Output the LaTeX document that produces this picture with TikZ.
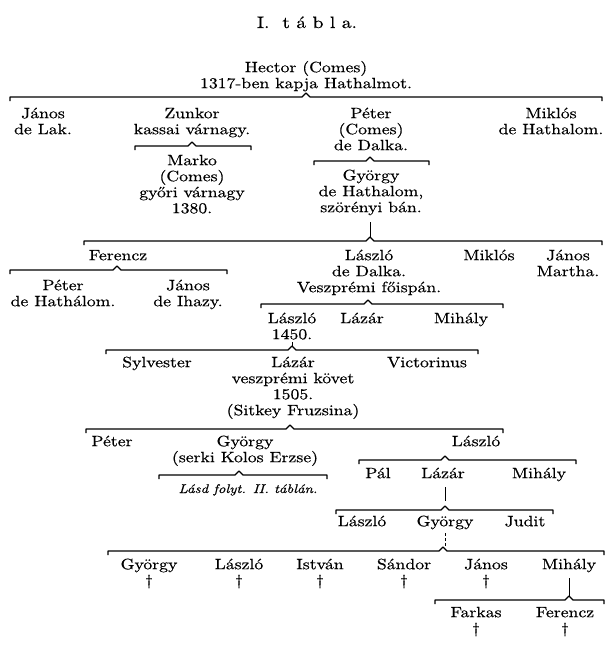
\documentclass[tikz,border=0pt]{standalone}
\usepackage{fontspec}
\setmainfont{lmroman10-regular.otf}[FakeStretch=1.18,FakeBold=0.5,ItalicFont=lmroman10-italic.otf]
\newcommand\pfont{\fontsize{15}{16}\selectfont}
\newcommand\hs{\rule{0pt}{12pt}}
% name, left x, tick x, right x, y
\newcommand\fambrace[5]{%
  \draw[brc] (#2,#5+4) -- (#2,#5) -- (#3-4,#5) -- (#3,#5-4) -- (#3+4,#5) -- (#4,#5) -- (#4,#5+4);
  \coordinate (#1) at (#3,#5-4);}
\begin{document}
\begin{tikzpicture}[x=1pt,y=-1pt,
  pers/.style={anchor=north,align=center,inner sep=0pt,font=\pfont,yshift=12pt},
  brc/.style={line width=1.2pt,line join=round},
  conn/.style={line width=0.8pt}]
\useasboundingbox (0,0) rectangle (613,646);
\node[anchor=base,inner sep=0pt,font=\fontsize{16.5}{18}\selectfont] (title) at (307,28) {I.\ \ t á b l a.};
\node[pers] (hector) at (306,72) {\hs Hector (Comes)\\1317-ben kapja Hathalmot.};
\fambrace{b1}{10}{306}{602}{97}
\node[pers] (janos1) at (43,118) {\hs János\\de Lak.};
\node[pers] (zunkor) at (192,118) {\hs Zunkor\\kassai várnagy.};
\node[pers] (peter1) at (371,118) {\hs Péter\\(Comes)\\de Dalka.};
\node[pers] (miklos1) at (551,118) {\hs Miklós\\de Hathalom.};
\fambrace{b2}{135}{192}{251}{146}
\node[pers] (marko) at (192,165) {\hs Marko\\(Comes)\\győri várnagy\\1380.};
\fambrace{b3}{314}{370}{429}{161}
\node[pers] (gyorgy1) at (371,180) {\hs György\\de Hathalom,\\szörényi bán.};
\coordinate (c1) at (370,222);
\fambrace{b4}{84}{370}{602}{241}
\draw[conn] (c1) -- (b4);
\node[pers] (ferencz1) at (118,260) {\hs Ferencz};
\node[pers] (laszlo1) at (369,260) {\hs László\\de Dalka.\\Veszprémi főispán.};
\node[pers] (miklos2) at (489,260) {\hs Miklós};
\node[pers] (janos2) at (568,260) {\hs János\\Martha.};
\fambrace{b5}{10}{117}{227}{270}
\node[pers] (peter2) at (63,290) {\hs Péter\\de Hathálom.};
\node[pers] (janos3) at (188,290) {\hs János\\de Ihazy.};
\fambrace{b6}{261}{368}{503}{304}
\node[pers] (laszlo2) at (292,323) {\hs László\\1450.};
\node[pers] (lazar1) at (362,323) {\hs Lázár};
\node[pers] (mihaly1) at (461,323) {\hs Mihály};
\fambrace{b7}{106}{292}{478}{350}
\coordinate (c2) at (292,342);
\draw[line width=0.6pt] (c2) -- (b7);
\node[pers] (sylvester) at (157,367) {\hs Sylvester};
\node[pers] (lazar2) at (293,367) {\hs Lázár\\veszprémi követ\\1505.\\(Sitkey Fruzsina)};
\node[pers] (victorinus) at (427,367) {\hs Victorinus};
\fambrace{b8}{86}{290}{503}{429}
\node[pers] (peter3) at (112,446) {\hs Péter};
\node[pers] (gyorgy2) at (245,446) {\hs György\\(serki Kolos Erzse)};
\node[pers] (laszlo3) at (476,446) {\hs László};
\fambrace{b9}{159}{239}{327}{475}
\node[anchor=base,inner sep=0pt,font=\fontsize{12.5}{14}\selectfont\itshape] (lasd) at (248,493) {Lásd folyt. II. táblán.};
\fambrace{b10}{359}{445}{576}{460}
\node[pers] (pal) at (378,478) {\hs Pál};
\node[pers] (lazar3) at (443,478) {\hs Lázár};
\node[pers] (mihaly2) at (539,478) {\hs Mihály};
\coordinate (c3) at (445,487);
\fambrace{b11}{336}{445}{553}{510}
\draw[conn] (c3) -- (445,501);
\node[pers] (laszlo4) at (362,526) {\hs László};
\node[pers] (gyorgy3) at (445,526) {\hs György};
\node[pers] (judit) at (525,526) {\hs Judit};
\coordinate (c4) at (445,533);
\fambrace{b12}{108}{443}{604}{551}
\draw[conn,dash pattern=on 3pt off 2pt] (c4) -- (445,546);
\node[pers] (gyorgy4) at (149,569) {\hs György\\\dag};
\node[pers] (laszlo5) at (239,569) {\hs László\\\dag};
\node[pers] (istvan) at (320,569) {\hs István\\\dag};
\node[pers] (sandor) at (404,569) {\hs Sándor\\\dag};
\node[pers] (janos4) at (486,569) {\hs János\\\dag};
\node[pers] (mihaly3) at (569,569) {\hs Mihály};
\coordinate (c5) at (569,578);
\fambrace{b13}{435}{569}{604}{600}
\draw[conn] (c5) -- (b13);
\node[pers] (farkas) at (476,617) {\hs Farkas\\\dag};
\node[pers] (ferencz2) at (565,617) {\hs Ferencz\\\dag};
\end{tikzpicture}
\end{document}
